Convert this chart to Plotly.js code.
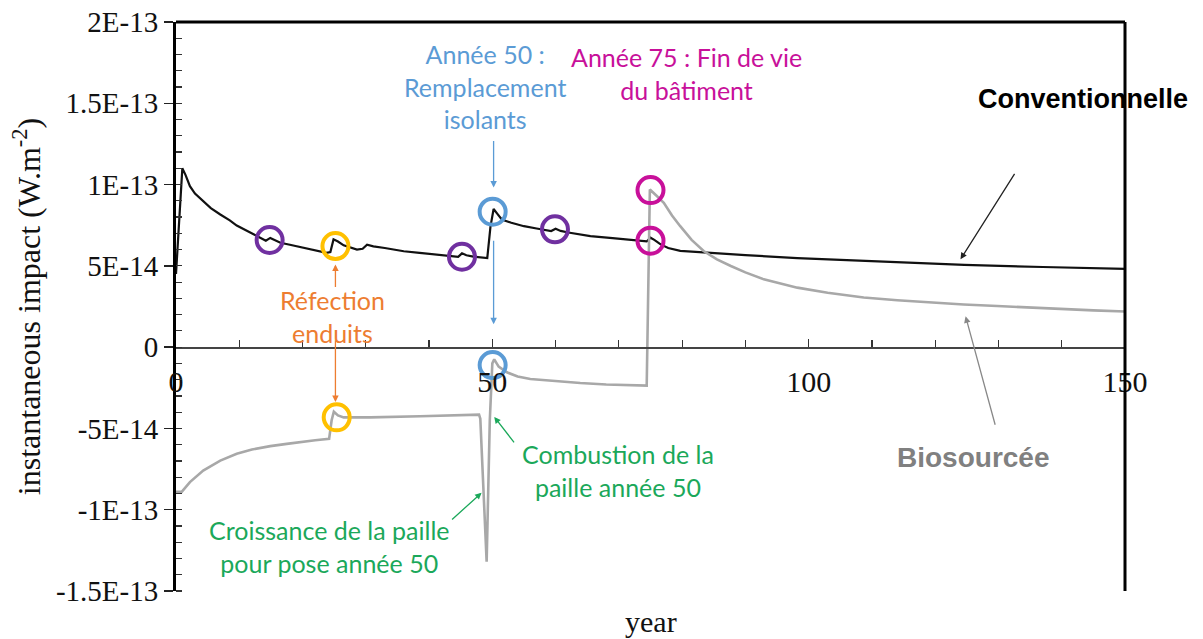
<!DOCTYPE html>
<html>
<head>
<meta charset="utf-8">
<script src="https://cdn.plot.ly/plotly-3.0.1.min.js"></script>
<style>html,body{margin:0;padding:0;background:#fff;}#chart{width:1203px;height:639px;}</style>
</head>
<body>
<div id="chart"></div>
<script>
// ---- Data (values in W.m-2) ----
const convYears = [0, 1.0, 1.5, 2.2, 3, 4.3, 5.5, 7, 8.5, 9.6, 11, 12.8, 14.2, 14.9, 15.6, 16.5, 18, 20.1, 22, 23.8, 24.4, 24.9, 25.6, 26.5, 28.6, 29.5, 30.2, 31.2, 33, 36, 38.5, 41.2, 43, 44.6, 45.2, 45.9, 47, 48.6, 49.2, 49.7, 50.2, 50.8, 51.5, 53, 55, 57, 59.3, 60, 60.8, 62, 65.5, 69, 73.4, 74.4, 75, 75.6, 76.6, 77.8, 79.7, 85, 90, 98.2, 110, 124.6, 137, 150];
const convValues = [4.5e-14, 11.0e-14, 10.6e-14, 9.9e-14, 9.45e-14, 8.97e-14, 8.55e-14, 8.16e-14, 7.8e-14, 7.48e-14, 7.2e-14, 6.83e-14, 6.55e-14, 6.72e-14, 6.6e-14, 6.42e-14, 6.3e-14, 6.11e-14, 5.95e-14, 5.8e-14, 5.85e-14, 6.63e-14, 6.5e-14, 6.26e-14, 6.0e-14, 6.05e-14, 6.3e-14, 6.2e-14, 6.1e-14, 5.9e-14, 5.8e-14, 5.7e-14, 5.62e-14, 5.56e-14, 5.77e-14, 5.65e-14, 5.57e-14, 5.5e-14, 5.48e-14, 7.4e-14, 8.5e-14, 8.2e-14, 7.85e-14, 7.65e-14, 7.44e-14, 7.3e-14, 7.14e-14, 7.28e-14, 7.15e-14, 7.05e-14, 6.83e-14, 6.7e-14, 6.52e-14, 6.5e-14, 6.73e-14, 6.6e-14, 6.32e-14, 6.1e-14, 5.92e-14, 5.78e-14, 5.66e-14, 5.48e-14, 5.28e-14, 5.06e-14, 4.93e-14, 4.82e-14];

const bioYears = [0, 0.9, 2.2, 4.3, 7, 9.6, 12, 14.9, 17.5, 20.1, 22, 24.2, 24.6, 24.95, 25.6, 26.5, 30.7, 38.6, 44, 47.9, 48.1, 49.1, 49.6, 50.0, 50.3, 51, 52.3, 54, 56, 60, 63.9, 68, 73.9, 74.4, 74.9, 75.2, 76, 77.1, 78.4, 79.7, 81.5, 83.4, 85.5, 87.7, 90, 92.9, 95.5, 98.2, 103, 108.7, 114, 119.3, 124.5, 129.8, 135, 140.4, 145, 150];
const bioValues = [-8.9e-14, -8.9e-14, -8.3e-14, -7.59e-14, -6.98e-14, -6.56e-14, -6.3e-14, -6.09e-14, -5.95e-14, -5.81e-14, -5.73e-14, -5.64e-14, -4.5e-14, -3.97e-14, -4.2e-14, -4.32e-14, -4.32e-14, -4.25e-14, -4.2e-14, -4.15e-14, -4.4e-14, -13.2e-14, -4.5e-14, -1.0e-14, -0.75e-14, -1.2e-14, -1.55e-14, -1.8e-14, -1.96e-14, -2.1e-14, -2.21e-14, -2.3e-14, -2.37e-14, -2.37e-14, 9.7e-14, 9.6e-14, 9.3e-14, 8.88e-14, 8.1e-14, 7.44e-14, 6.6e-14, 5.91e-14, 5.4e-14, 4.99e-14, 4.6e-14, 4.17e-14, 3.9e-14, 3.66e-14, 3.35e-14, 3.05e-14, 2.88e-14, 2.74e-14, 2.62e-14, 2.53e-14, 2.43e-14, 2.33e-14, 2.26e-14, 2.19e-14];

// highlighted events (circles)
const purpleYears = [14.8, 45.2, 59.9];
const purpleValues = [6.59e-14, 5.56e-14, 7.25e-14];
const yellowYears = [25.2, 25.4];
const yellowValues = [6.22e-14, -4.32e-14];
const blueYears = [50.05, 50.05];
const blueValues = [8.33e-14, -1.1e-14];
const magentaYears = [75.0, 75.0];
const magentaValues = [9.66e-14, 6.55e-14];

// tick labels
const yTickVals = [2e-13, 1.5e-13, 1e-13, 5e-14, 0, -5e-14, -1e-13, -1.5e-13];
const yTickText = ['2E-13', '1.5E-13', '1E-13', '5E-14', '0', '-5E-14', '-1E-13', '-1.5E-13'];
const xTickVals = [0, 50, 100, 150];
const xTickText = ['0', '50', '100', '150'];

const SERIF = 'Liberation Serif, Times New Roman, serif';
const SANS = 'Lato, Open Sans, sans-serif';
const ARIAL = 'Liberation Sans, Arial, sans-serif';
const BLUE = '#5B9BD5', MAGENTA = '#C8109A', PURPLE = '#7030A0', YELLOW = '#FFC000', ORANGE = '#ED7D31', GREEN = '#1BA85A';

function circles(xs, ys, color) {
  return {x: xs, y: ys, type: 'scatter', mode: 'markers', hoverinfo: 'skip', showlegend: false,
    marker: {symbol: 'circle-open', size: 26, color: color, line: {width: 4, color: color}}};
}

const traces = [
  {x: convYears, y: convValues, type: 'scatter', mode: 'lines', name: 'Conventionnelle',
   line: {color: '#111111', width: 2.2}, showlegend: false},
  {x: bioYears, y: bioValues, type: 'scatter', mode: 'lines', name: 'Biosourcée',
   line: {color: '#a8a8a8', width: 2.6}, showlegend: false},
  circles(purpleYears, purpleValues, PURPLE),
  circles(yellowYears, yellowValues, YELLOW),
  circles(blueYears, blueValues, BLUE),
  circles(magentaYears, magentaValues, MAGENTA)
];

function arrow(x, y, ax, ay, color) {
  return {x: x, y: y, xref: 'x', yref: 'y', text: '', showarrow: true, ax: ax, ay: ay,
    arrowcolor: color, arrowwidth: 1.3, arrowhead: 2, arrowsize: 1, standoff: 0, startstandoff: 0};
}
function label(x, y, text, color, size, font) {
  return {x: x, y: y, xref: 'x', yref: 'y', text: text, showarrow: false, align: 'center',
    xanchor: 'center', yanchor: 'middle', font: {family: font || SANS, size: size, color: color}};
}

const annotations = [
  label(48.9, 1.603e-13, 'Année 50 :<br>Remplacement<br>isolants', BLUE, 25),
  label(80.7, 1.683e-13, 'Année 75 : Fin de vie<br>du bâtiment', MAGENTA, 25),
  label(143.4, 1.526e-13, '<b>Conventionnelle</b>', '#000000', 27, ARIAL),
  label(126.0, -6.77e-14, '<b>Biosourcée</b>', '#808080', 28, ARIAL),
  label(24.7, 1.91e-14, 'Réfection<br>enduits', ORANGE, 25),
  label(69.9, -7.57e-14, 'Combustion de la<br>paille année 50', GREEN, 25),
  label(24.3, -1.224e-13, 'Croissance de la paille<br>pour pose année 50', GREEN, 25),
  arrow(50.2, 9.82e-14, 0, -48, BLUE),
  arrow(50.2, 1.41e-14, 0, -85, BLUE),
  arrow(25.2, 5.09e-14, 0, 24, ORANGE),
  arrow(25.2, -3.37e-14, 0, -63, ORANGE),
  arrow(48.3, -8.96e-14, -31, 28, GREEN),
  arrow(50.3, -4.29e-14, 21, 27, GREEN),
  arrow(124.0, 5.4e-14, 55, -87, '#222222'),
  arrow(124.8, 1.9e-14, 30, 110, '#888888'),
  {x: 0.5, y: -0.054, xref: 'paper', yref: 'paper', text: 'year', showarrow: false,
   xanchor: 'center', yanchor: 'middle', font: {family: SERIF, size: 30, color: '#111'}}
];

const layout = {
  width: 1203, height: 639,
  margin: {l: 176, r: 78, t: 22, b: 48, pad: 0},
  paper_bgcolor: '#ffffff', plot_bgcolor: '#ffffff',
  showlegend: false,
  xaxis: {
    range: [0, 150], anchor: 'free', position: 1.5 / 3.5,
    showline: true, linecolor: '#444', linewidth: 1.5,
    tickmode: 'array', tickvals: xTickVals, ticktext: xTickText,
    ticks: 'inside', ticklen: 8, tickwidth: 1.2, tickcolor: '#333',
    minor: {tickmode: 'linear', tick0: 0, dtick: 10, ticks: 'inside', ticklen: 7, tickwidth: 1.2, tickcolor: '#333'},
    ticklabelstandoff: 7,
    tickfont: {family: SERIF, size: 30, color: '#111'},
    showgrid: false, zeroline: false, fixedrange: true
  },
  yaxis: {
    range: [-1.5e-13, 2e-13],
    showline: true, linecolor: '#000', linewidth: 3,
    tickmode: 'array', tickvals: yTickVals, ticktext: yTickText,
    ticks: 'outside', ticklen: 9, tickwidth: 1.5, tickcolor: '#222',
    minor: {tickmode: 'linear', tick0: 0, dtick: 1e-14, ticks: 'inside', ticklen: 6, tickwidth: 1.2, tickcolor: '#333'},
    tickfont: {family: SERIF, size: 29, color: '#111'},
    title: {text: 'instantaneous impact (W.m<sup>-2</sup>)', font: {family: SERIF, size: 32, color: '#111'}, standoff: 6},
    showgrid: false, zeroline: false, fixedrange: true
  },
  shapes: [
    {type: 'line', xref: 'paper', yref: 'paper', x0: 0, x1: 1, y0: 1, y1: 1, line: {color: '#000', width: 3}},
    {type: 'line', xref: 'paper', yref: 'paper', x0: 1, x1: 1, y0: 0, y1: 1, line: {color: '#000', width: 3}}
  ],
  annotations: annotations
};

Plotly.newPlot('chart', traces, layout, {displayModeBar: false, staticPlot: true});
</script>
</body>
</html>
